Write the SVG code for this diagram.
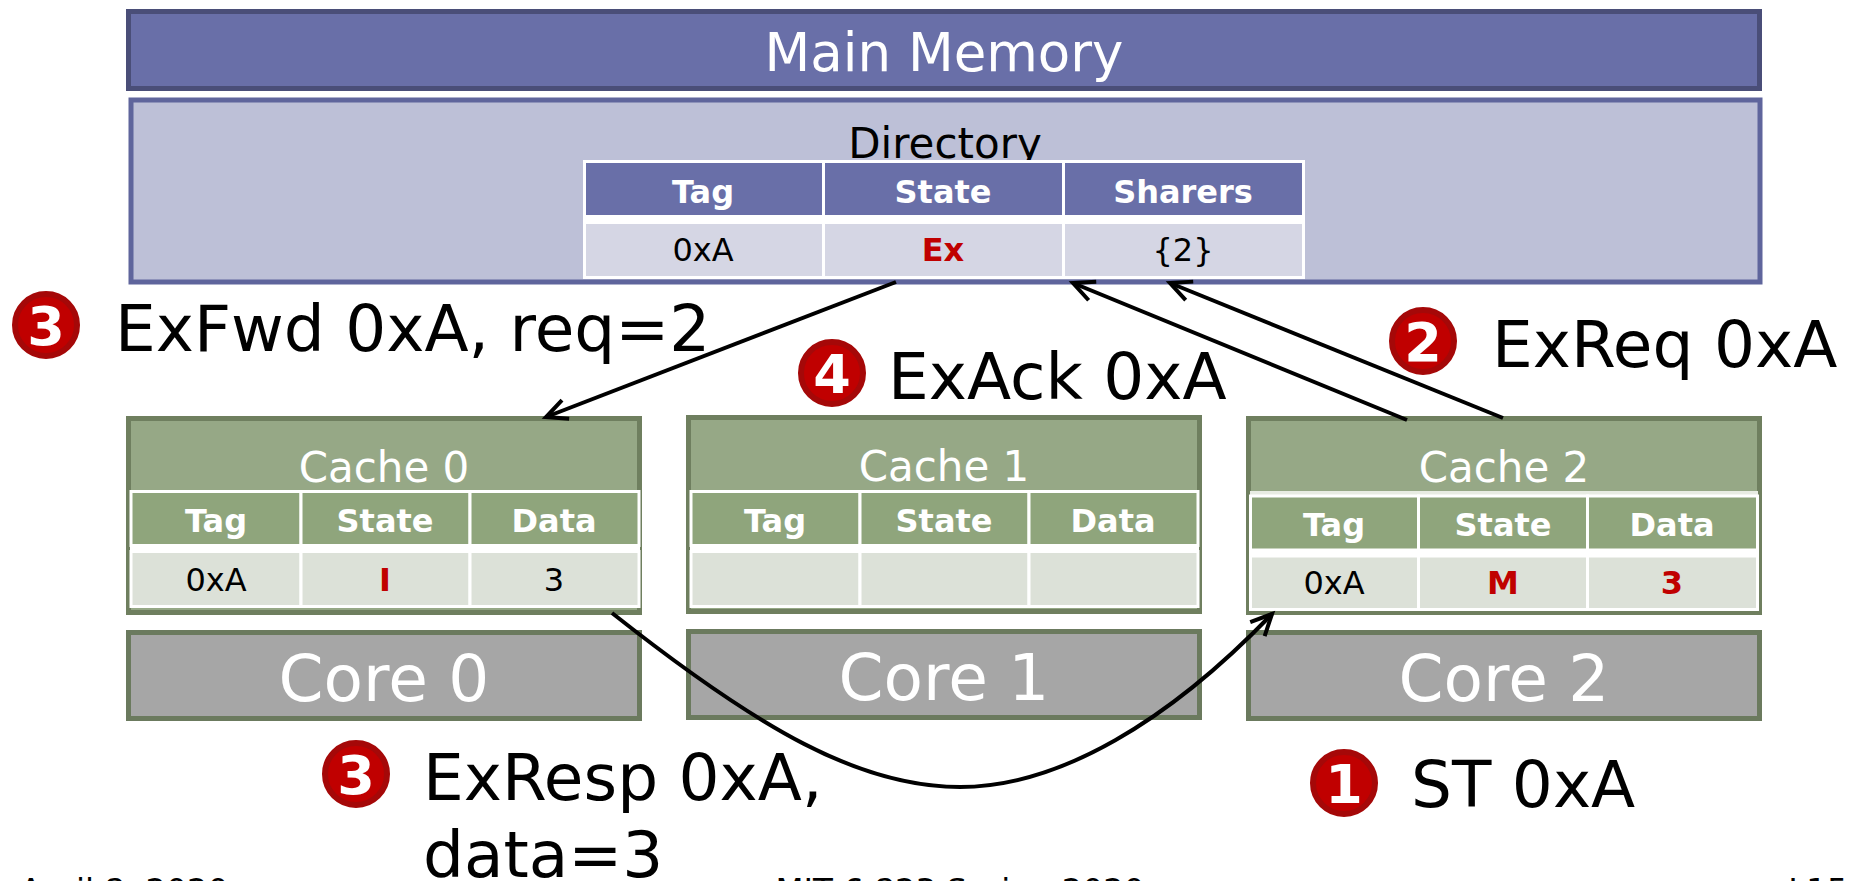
<svg xmlns="http://www.w3.org/2000/svg" width="1855" height="881" viewBox="0 0 1855 881">
<style>
text{font-family:"DejaVu Sans",Verdana,sans-serif;text-anchor:middle}
.lbl{font-size:64.500px;fill:#000;text-anchor:start}
.ft{font-size:32.500px;fill:#000}
.th{font-size:32px;font-weight:bold;fill:#fff}
.td{font-size:32px;fill:#000}
.red{font-size:32px;font-weight:bold;fill:#c00000}
.cap{font-size:42px;fill:#fff}
.core{font-size:64.500px;fill:#fff}
.cache{fill:#96a886;stroke:#6f7f5f;stroke-width:5}
.corebox{fill:#a6a6a6;stroke:#6b7a5e;stroke-width:5}
.hd{fill:#8fa57c;stroke:#fff;stroke-width:3}
.rw{fill:#dce1d8;stroke:#fff;stroke-width:3}
.bd{fill:#c00000;stroke:#a50808;stroke-width:6}
.num{font-size:54px;font-weight:bold;fill:#fff}
.c{fill:none;stroke:#000;stroke-width:4}
</style>
<defs>
<marker id="a" markerUnits="userSpaceOnUse" markerWidth="30" markerHeight="30" refX="23" refY="12" orient="auto" overflow="visible"><path d="M2 2 L23 12 L2 22" fill="none" stroke="#000" stroke-width="4"/></marker>
</defs>
<rect width="1855" height="881" fill="#fff"/>
<g id="main-memory"><rect x="128.500" y="11.500" width="1631" height="77" fill="#696fa8" stroke="#4a4e78" stroke-width="5"/><text x="944" y="71" fill="#fff" style="font-size:53px">Main Memory</text></g>
<g id="directory">
<rect x="131" y="100" width="1629" height="182" fill="#bdc0d7" stroke="#5f659c" stroke-width="5"/>
<text x="945" y="158" style="font-size:42px" fill="#000">Directory</text>
<rect x="583" y="160" width="722" height="58" fill="#fff"/>
<g><rect x="584.500" y="161.500" width="239" height="55" fill="#696fa8" stroke="#fff" stroke-width="3"/><rect x="823.500" y="161.500" width="240" height="55" fill="#696fa8" stroke="#fff" stroke-width="3"/><rect x="1063.500" y="161.500" width="240" height="55" fill="#696fa8" stroke="#fff" stroke-width="3"/>
<rect x="584.500" y="222.500" width="239" height="55" fill="#d5d6e4" stroke="#fff" stroke-width="3"/><rect x="823.500" y="222.500" width="240" height="55" fill="#d5d6e4" stroke="#fff" stroke-width="3"/><rect x="1063.500" y="222.500" width="240" height="55" fill="#d5d6e4" stroke="#fff" stroke-width="3"/>
<rect x="583" y="216" width="722" height="7" fill="#fff"/></g>
<text class="th" x="703" y="203">Tag</text><text class="th" x="943" y="203">State</text><text class="th" x="1183" y="203">Sharers</text>
<text class="td" x="703" y="261">0xA</text><text class="red" x="943" y="261">Ex</text><text class="td" x="1183" y="261">{2}</text>
</g>
<g id="cache0">
<rect class="cache" x="128.500" y="418.500" width="511" height="194"/>
<text class="cap" x="384" y="482">Cache 0</text>
<rect class="hd" x="131" y="491.500" width="170" height="54"/><rect class="hd" x="301" y="491.500" width="169" height="54"/><rect class="hd" x="470" y="491.500" width="169" height="54"/>
<rect class="rw" x="131" y="551.500" width="170" height="55"/><rect class="rw" x="301" y="551.500" width="169" height="55"/><rect class="rw" x="470" y="551.500" width="169" height="55"/>
<rect x="130" y="545" width="510" height="8" fill="#fff"/>
<text class="th" x="216" y="532">Tag</text><text class="th" x="385" y="532">State</text><text class="th" x="554" y="532">Data</text>
<text class="td" x="216" y="591">0xA</text><text class="red" x="385" y="591">I</text><text class="td" x="554" y="591">3</text>
</g>
<g id="cache1">
<rect class="cache" x="688.500" y="417.500" width="511" height="194"/>
<text class="cap" x="944" y="481">Cache 1</text>
<rect class="hd" x="691" y="491.500" width="169" height="54"/><rect class="hd" x="860" y="491.500" width="169" height="54"/><rect class="hd" x="1029" y="491.500" width="169" height="54"/>
<rect class="rw" x="691" y="551.500" width="169" height="55"/><rect class="rw" x="860" y="551.500" width="169" height="55"/><rect class="rw" x="1029" y="551.500" width="169" height="55"/>
<rect x="690" y="545" width="509" height="8" fill="#fff"/>
<text class="th" x="775" y="532">Tag</text><text class="th" x="944" y="532">State</text><text class="th" x="1113" y="532">Data</text>
</g>
<g id="cache2">
<rect class="cache" x="1248.500" y="418.500" width="511" height="194"/>
<text class="cap" x="1504" y="482">Cache 2</text>
<rect x="1250" y="491" width="508" height="5" fill="#e8ece3"/>
<rect class="hd" x="1250.500" y="496" width="168" height="54"/><rect class="hd" x="1418.500" y="496" width="169" height="54"/><rect class="hd" x="1587.500" y="496" width="170" height="54"/>
<rect class="rw" x="1250.500" y="556" width="168" height="53.500"/><rect class="rw" x="1418.500" y="556" width="169" height="53.500"/><rect class="rw" x="1587.500" y="556" width="170" height="53.500"/>
<rect x="1249" y="549" width="510" height="8" fill="#fff"/>
<text class="th" x="1334" y="536">Tag</text><text class="th" x="1503" y="536">State</text><text class="th" x="1672" y="536">Data</text>
<text class="td" x="1334" y="594">0xA</text><text class="red" x="1503" y="594">M</text><text class="red" x="1672" y="594">3</text>
</g>
<g id="core0"><rect class="corebox" x="128.500" y="632.500" width="511" height="86"/><text class="core" x="384" y="701">Core 0</text></g>
<g id="core1"><rect class="corebox" x="688.500" y="631.500" width="511" height="86"/><text class="core" x="944" y="700">Core 1</text></g>
<g id="core2"><rect class="corebox" x="1248.500" y="632.500" width="511" height="86"/><text class="core" x="1504" y="701">Core 2</text></g>
<g id="connectors">
<path class="c" d="M896 282 L546 417" marker-end="url(#a)"/>
<path class="c" d="M1407 420 L1073 283" marker-end="url(#a)"/>
<path class="c" d="M1503 418 L1170 283" marker-end="url(#a)"/>
<path class="c" d="M612 613 C760 730 860 787 960 787 C1060 787 1170 720 1272 614" marker-end="url(#a)"/>
</g>
<g id="step3a"><circle class="bd" cx="46" cy="325" r="31"/><text class="num" x="46" y="345">3</text><text class="lbl" x="115" y="351">ExFwd 0xA, req=2</text></g>
<g id="step4"><circle class="bd" cx="832" cy="373" r="31"/><text class="num" x="832" y="393">4</text><text class="lbl" x="888" y="399">ExAck 0xA</text></g>
<g id="step2"><circle class="bd" cx="1423" cy="341" r="31"/><text class="num" x="1423" y="361">2</text><text class="lbl" x="1492" y="367">ExReq 0xA</text></g>
<g id="step3b"><circle class="bd" cx="356" cy="774" r="31"/><text class="num" x="356" y="794">3</text><text class="lbl" x="423" y="800">ExResp 0xA,</text><text class="lbl" x="423" y="877">data=3</text></g>
<g id="step1"><circle class="bd" cx="1344" cy="783" r="31"/><text class="num" x="1344" y="803">1</text><text class="lbl" x="1411" y="807">ST 0xA</text></g>
<g id="footer"><text class="ft" x="124" y="901">April 8, 2020</text><text class="ft" x="960" y="901">MIT 6.823 Spring 2020</text><text class="ft" x="1818" y="901">L15</text></g>
</svg>
